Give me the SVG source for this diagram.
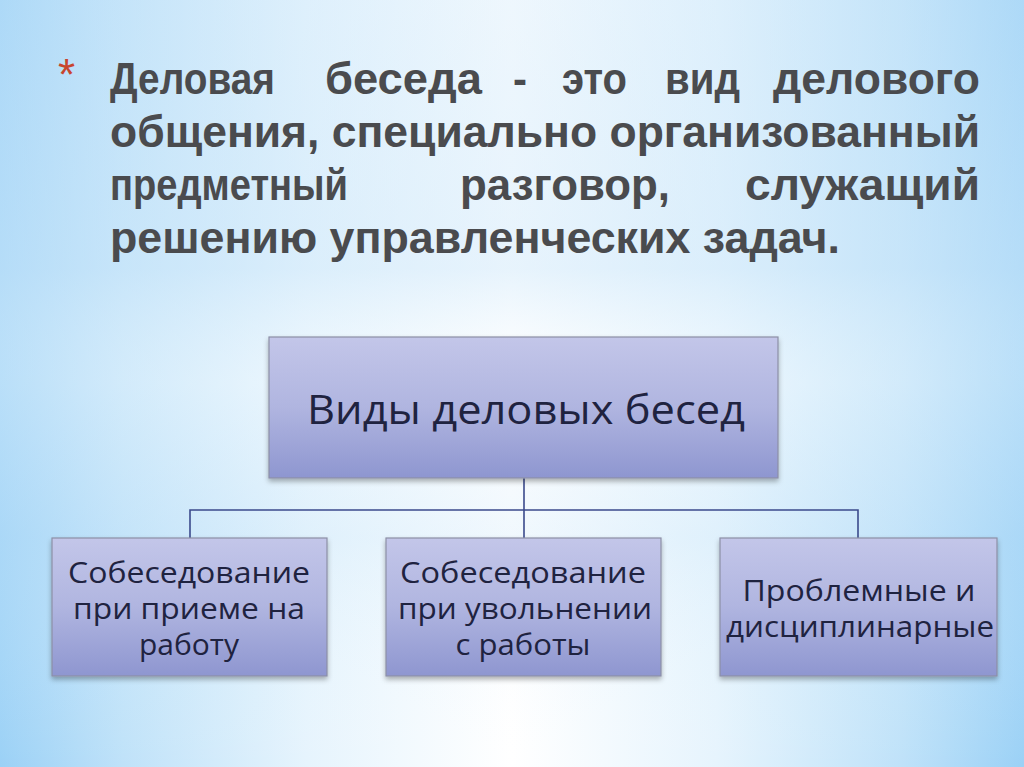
<svg xmlns="http://www.w3.org/2000/svg" width="1024" height="767" viewBox="0 0 1024 767">
<defs>
<linearGradient id="bg" x1="0" y1="0" x2="1" y2="0">
<stop offset="0" stop-color="#9bd1f6"/>
<stop offset="0.12" stop-color="#bfe2f9"/>
<stop offset="0.3" stop-color="#e6f4fd"/>
<stop offset="0.5" stop-color="#ffffff"/>
<stop offset="0.7" stop-color="#e6f4fd"/>
<stop offset="0.88" stop-color="#bfe2f9"/>
<stop offset="1" stop-color="#9bd1f6"/>
</linearGradient>
<linearGradient id="vb" x1="0" y1="0" x2="0" y2="1">
<stop offset="0" stop-color="#cfe8fa" stop-opacity="0.35"/>
<stop offset="0.35" stop-color="#cfe8fa" stop-opacity="0.5"/>
<stop offset="0.5" stop-color="#ffffff" stop-opacity="0.3"/>
<stop offset="0.7" stop-color="#cfe8fa" stop-opacity="0.3"/>
<stop offset="1" stop-color="#ffffff" stop-opacity="0"/>
</linearGradient>
<linearGradient id="box" x1="0" y1="0" x2="0" y2="1">
<stop offset="0" stop-color="#c3c6e9"/>
<stop offset="0.5" stop-color="#b0b5e0"/>
<stop offset="1" stop-color="#8e96d0"/>
</linearGradient>
<filter id="sh" x="-10%" y="-10%" width="120%" height="130%">
<feDropShadow dx="0" dy="3" stdDeviation="2.5" flood-color="#000" flood-opacity="0.3"/>
</filter>
<style>
.t{font-family:"Liberation Sans",Arial,sans-serif;font-weight:bold;font-size:44px;fill:#4a4b4e}
.n{fill:url(#box);stroke:#8c8fa6;stroke-width:1.2;filter:url(#sh)}
.l{font-family:"Open Sans","Noto Sans",sans-serif;fill:#1f2340;text-anchor:middle;font-size:29px}
.c{fill:none;stroke:#3b4a8c;stroke-width:1.6}
</style>
</defs>
<rect width="1024" height="767" fill="url(#bg)"/>
<rect width="1024" height="767" fill="url(#vb)"/>

<g id="title">
<text x="58" y="90" style="font-family:'Liberation Sans',sans-serif;font-size:44px;fill:#c8452e">*</text>
<text class="t" x="110" y="94" textLength="165" lengthAdjust="spacingAndGlyphs">Деловая</text>
<text class="t" x="325" y="94" textLength="157" lengthAdjust="spacingAndGlyphs">беседа</text>
<text class="t" x="513" y="94" textLength="14" lengthAdjust="spacingAndGlyphs">-</text>
<text class="t" x="562" y="94" textLength="65" lengthAdjust="spacingAndGlyphs">это</text>
<text class="t" x="665" y="94" textLength="75" lengthAdjust="spacingAndGlyphs">вид</text>
<text class="t" x="773" y="94" textLength="207" lengthAdjust="spacingAndGlyphs">делового</text>
<text class="t" x="110" y="147" textLength="870" lengthAdjust="spacingAndGlyphs">общения, специально организованный</text>
<text class="t" x="110" y="200" textLength="238" lengthAdjust="spacingAndGlyphs">предметный</text>
<text class="t" x="460" y="200" textLength="210" lengthAdjust="spacingAndGlyphs">разговор,</text>
<text class="t" x="745" y="200" textLength="235" lengthAdjust="spacingAndGlyphs">служащий</text>
<text class="t" x="110" y="253" textLength="730" lengthAdjust="spacingAndGlyphs">решению управленческих задач.</text>
</g>

<g id="connectors">
<path class="c" d="M524 478V510M190 538V510H858V538M524 510V538"/>
</g>

<g id="root">
<rect class="n" x="269" y="337" width="509" height="141"/>
<text class="l" x="526" y="424" style="font-size:40px" textLength="438" lengthAdjust="spacingAndGlyphs">Виды деловых бесед</text>
</g>

<g id="n1">
<rect class="n" x="52" y="538" width="275" height="138"/>
<text class="l" x="189" y="583" textLength="242" lengthAdjust="spacingAndGlyphs">Собеседование</text>
<text class="l" x="189" y="619" textLength="232" lengthAdjust="spacingAndGlyphs">при приеме на</text>
<text class="l" x="189" y="655" textLength="100" lengthAdjust="spacingAndGlyphs">работу</text>
</g>

<g id="n2">
<rect class="n" x="386" y="538" width="275" height="138"/>
<text class="l" x="523" y="583" textLength="246" lengthAdjust="spacingAndGlyphs">Собеседование</text>
<text class="l" x="525" y="619" textLength="254" lengthAdjust="spacingAndGlyphs">при увольнении</text>
<text class="l" x="523" y="655" textLength="135" lengthAdjust="spacingAndGlyphs">с работы</text>
</g>

<g id="n3">
<rect class="n" x="720" y="538" width="277" height="138"/>
<text class="l" x="859" y="601" textLength="233" lengthAdjust="spacingAndGlyphs">Проблемные и</text>
<text class="l" x="860" y="637" textLength="268" lengthAdjust="spacingAndGlyphs">дисциплинарные</text>
</g>
</svg>
